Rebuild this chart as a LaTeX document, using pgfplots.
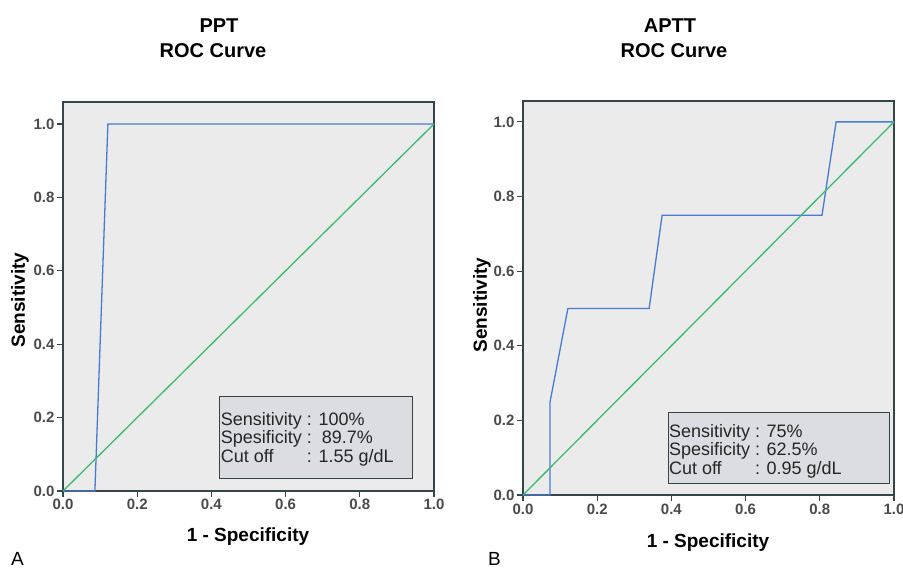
\documentclass[border=0pt]{standalone}
\usepackage{fontspec}
\setmainfont{Liberation Sans}
\usepackage{pgfplots}
\pgfplotsset{compat=1.18}
\definecolor{panel}{HTML}{EBEBEB}
\definecolor{frame}{HTML}{35454A}
\definecolor{roc}{HTML}{4A7BD2}
\definecolor{ref}{HTML}{3CB872}
\definecolor{boxfill}{HTML}{DCDCE3}
\definecolor{ticktxt}{HTML}{4A4A4A}
\pgfplotsset{
  rocaxis/.style={
    scale only axis, width=371pt,
    xmin=0, xmax=1, ymin=0,
    axis background/.style={fill=panel},
    axis line style={frame, line width=1.4pt},
    xtick={0,0.2,...,1.0}, ytick={0,0.2,...,1.0},
    tick style={frame, line width=1.2pt},
    tick align=outside, major tick length=6pt,
    xtick pos=bottom, ytick pos=left,
    /pgf/number format/assume math mode=true,
    /pgf/number format/fixed, /pgf/number format/fixed zerofill,
    /pgf/number format/precision=1,
    tick label style={font=\fontsize{15}{17}\selectfont\bfseries, text=ticktxt},
    xticklabel style={yshift=1pt}, yticklabel style={xshift=1pt},
    clip=false,
  }
}
\begin{document}
\begin{tikzpicture}
\path[use as bounding box] (0pt,0pt) rectangle (903pt,569pt);
% titles and labels
\node[font=\fontsize{20}{24}\selectfont\bfseries, anchor=base] at (219pt,536pt) {PPT};
\node[font=\fontsize{20}{24}\selectfont\bfseries, anchor=base] at (213pt,511pt) {ROC Curve};
\node[font=\fontsize{20}{24}\selectfont\bfseries, anchor=base] at (670pt,536pt) {APTT};
\node[font=\fontsize{20}{24}\selectfont\bfseries, anchor=base] at (674pt,511pt) {ROC Curve};
\node[font=\fontsize{19}{22}\selectfont\bfseries, rotate=90] at (20pt,269pt) {Sensitivity};
\node[font=\fontsize{19}{22}\selectfont\bfseries, rotate=90] at (482pt,264pt) {Sensitivity};
\node[font=\fontsize{19}{22}\selectfont\bfseries] at (248pt,32pt) {1 - Specificity};
\node[font=\fontsize{19}{22}\selectfont\bfseries] at (708pt,26pt) {1 - Specificity};
\node[font=\fontsize{19}{22}\selectfont, anchor=base west, inner sep=0pt] at (11pt,3pt) {A};
\node[font=\fontsize{19}{22}\selectfont, anchor=base west, inner sep=0pt] at (488pt,3pt) {B};

\begin{axis}[rocaxis, at={(63pt,78pt)}, anchor=south west, height=389pt, ymax=1.06]
  \addplot[roc, line width=1.3pt] coordinates {(0,0) (0.086,0) (0.121,1) (1,1)};
  \addplot[ref, line width=1.3pt] coordinates {(0,0) (1,1)};
  \draw[frame, line width=1pt, fill=boxfill] (axis cs:0.423,0.033) rectangle (axis cs:0.943,0.257);
  \node[anchor=north west, font=\fontsize{18}{18.5}\selectfont, inner sep=0pt, text=black!85]
    at (axis cs:0.425,0.215) {\begin{tabular}{@{}l@{ }l@{}}Sensitivity & : 100\%\\ Spesificity & :\ \ 89.7\%\\ Cut off & : 1.55 g/dL\end{tabular}};
\end{axis}

\begin{axis}[rocaxis, at={(523pt,74pt)}, anchor=south west, height=394pt, ymax=1.056]
  \addplot[roc, line width=1.3pt] coordinates {(0,0) (0.073,0) (0.073,0.25) (0.121,0.5) (0.34,0.5) (0.375,0.75) (0.806,0.75) (0.844,1) (1,1)};
  \addplot[ref, line width=1.3pt] coordinates {(0,0) (1,1)};
  \draw[frame, line width=1pt, fill=boxfill] (axis cs:0.391,0.03) rectangle (axis cs:0.987,0.22);
  \node[anchor=north west, font=\fontsize{18}{18.5}\selectfont, inner sep=0pt, text=black!85]
    at (axis cs:0.393,0.19) {\begin{tabular}{@{}l@{ }l@{}}Sensitivity & : 75\%\\ Spesificity & : 62.5\%\\ Cut off & : 0.95 g/dL\end{tabular}};
\end{axis}
\end{tikzpicture}
\end{document}
